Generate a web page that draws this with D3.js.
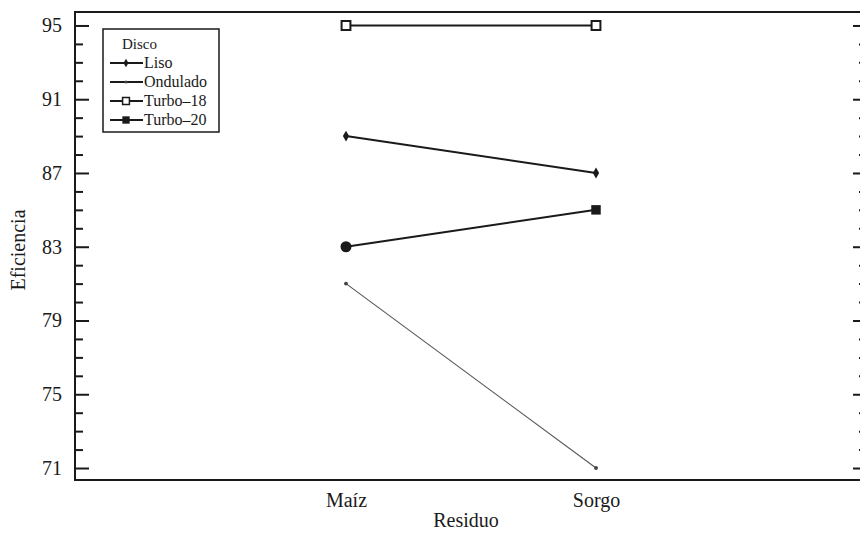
<!DOCTYPE html>
<html>
<head>
<meta charset="utf-8">
<script src="https://cdn.jsdelivr.net/npm/d3@7"></script>
<style>
  html, body { margin: 0; padding: 0; background: #fff; }
  svg { display: block; font-family: "Liberation Serif", "Times New Roman", serif; }
</style>
</head>
<body>
<svg id="chart" width="860" height="533"></svg>
<script>
// Interaction plot: Eficiencia by Residuo for each Disco type
const residuos = ["Maíz", "Sorgo"];
const discos = ["Liso", "Ondulado", "Turbo\u201318", "Turbo\u201320"];
const liso = [89, 87];
const ondulado = [81, 71];
const turbo18 = [95, 95];
const turbo20 = [83, 85];
const yTicks = [71, 75, 79, 83, 87, 91, 95];
const seriesValues = [liso, ondulado, turbo18, turbo20];

const svg = d3.select("#chart");
const margin = { left: 75, right: -7, top: 12, bottom: 53 };
const W = 860, H = 533;

const x = d3.scalePoint()
  .domain(residuos)
  .range([margin.left, W - margin.right])
  .padding(1.084);

const y = d3.scaleLinear()
  .domain([70.35, 95.73])
  .range([H - margin.bottom, margin.top]);

const ink = "#1a1a1a";

// minor ticks every unit, major ticks every four
const minor = d3.range(71, 96).filter(v => !yTicks.includes(v));

const left = svg.append("g").attr("transform", `translate(${margin.left},0)`);
left.append("g")
  .call(d3.axisRight(y).tickValues(minor).tickSize(8).tickFormat(""))
  .call(g => g.select(".domain").remove());
left.append("g")
  .call(d3.axisRight(y).tickValues(yTicks).tickSize(14).tickFormat(""))
  .call(g => g.select(".domain").remove());
left.selectAll("line").attr("stroke", ink).attr("stroke-width", 2);

const yLabels = svg.append("g").attr("transform", `translate(${margin.left},0)`)
  .call(d3.axisLeft(y).tickValues(yTicks).tickSize(0).tickPadding(13).tickFormat(d3.format("d")));
yLabels.select(".domain").remove();
yLabels.selectAll("text")
  .attr("font-family", "Liberation Serif, serif")
  .attr("font-size", 20)
  .attr("fill", ink);

const right = svg.append("g").attr("transform", `translate(${W - margin.right},0)`);
right.append("g")
  .call(d3.axisLeft(y).tickValues(minor).tickSize(8).tickFormat(""))
  .call(g => g.select(".domain").remove());
right.append("g")
  .call(d3.axisLeft(y).tickValues(yTicks).tickSize(14).tickFormat(""))
  .call(g => g.select(".domain").remove());
right.selectAll("line").attr("stroke", ink).attr("stroke-width", 2);

// plot frame
svg.append("rect")
  .attr("x", margin.left)
  .attr("y", margin.top)
  .attr("width", W - margin.right - margin.left)
  .attr("height", H - margin.bottom - margin.top)
  .attr("fill", "none")
  .attr("stroke", ink)
  .attr("stroke-width", 2);

// category labels along the bottom
const xAxis = svg.append("g").attr("transform", `translate(0,${H - margin.bottom})`)
  .call(d3.axisBottom(x).tickSize(0).tickPadding(13));
xAxis.select(".domain").remove();
xAxis.selectAll("text")
  .attr("font-family", "Liberation Serif, serif")
  .attr("font-size", 20)
  .attr("fill", ink);

svg.append("text")
  .attr("x", 466).attr("y", 527)
  .attr("text-anchor", "middle")
  .attr("font-size", 20).attr("fill", ink)
  .text("Residuo");

svg.append("text")
  .attr("transform", `translate(25,250) rotate(-90)`)
  .attr("text-anchor", "middle")
  .attr("font-size", 20).attr("fill", ink)
  .text("Eficiencia");

// line and marker styles per Disco
const styles = [
  { width: 2, color: ink, marker: "diamond", size: 34, fill: ink },
  { width: 1.1, color: "#555", marker: "dot", size: 12, fill: "#444" },
  { width: 2, color: ink, marker: "openSquare", size: 78, fill: "#fff" },
  { width: 2, color: ink, marker: "square", size: 90, fill: ink }
];
const symbolOf = {
  diamond: d3.symbolDiamond,
  dot: d3.symbolCircle,
  openSquare: d3.symbolSquare,
  square: d3.symbolSquare
};

const line = d3.line().x(d => x(d.r)).y(d => y(d.v));

seriesValues.forEach((vals, i) => {
  const pts = residuos.map((r, j) => ({ r, v: vals[j] }));
  const st = styles[i];
  svg.append("path")
    .datum(pts)
    .attr("d", line)
    .attr("fill", "none")
    .attr("stroke", st.color)
    .attr("stroke-width", st.width);
  svg.selectAll(null).data(pts).enter().append("path")
    .attr("transform", d => `translate(${x(d.r)},${y(d.v)})`)
    .attr("d", (d, j) => {
      // the Turbo-20 point at Maíz is drawn as a round dot
      if (i === 3 && j === 0) return d3.symbol(d3.symbolCircle, 95)();
      return d3.symbol(symbolOf[st.marker], st.size)();
    })
    .attr("fill", st.fill)
    .attr("stroke", st.marker === "openSquare" ? ink : "none")
    .attr("stroke-width", 2);
});

// legend
const lg = svg.append("g").attr("transform", "translate(103,29)");
lg.append("rect")
  .attr("width", 116).attr("height", 103)
  .attr("fill", "#fff").attr("stroke", ink).attr("stroke-width", 1.5);
lg.append("text")
  .attr("x", 19).attr("y", 20)
  .attr("font-size", 15).attr("fill", ink)
  .text("Disco");
discos.forEach((name, i) => {
  const st = styles[i];
  const yy = 34 + i * 19;
  const row = lg.append("g").attr("transform", `translate(0,${yy})`);
  row.append("line")
    .attr("x1", 7).attr("x2", 40)
    .attr("stroke", ink).attr("stroke-width", 2);
  row.append("path")
    .attr("transform", "translate(23,0)")
    .attr("d", d3.symbol(symbolOf[st.marker], st.size * 0.6)())
    .attr("fill", st.fill)
    .attr("stroke", st.marker === "openSquare" ? ink : "none")
    .attr("stroke-width", 1.5);
  row.append("text")
    .attr("x", 41).attr("y", 5)
    .attr("font-size", 16).attr("fill", ink)
    .text(name);
});
</script>
</body>
</html>
